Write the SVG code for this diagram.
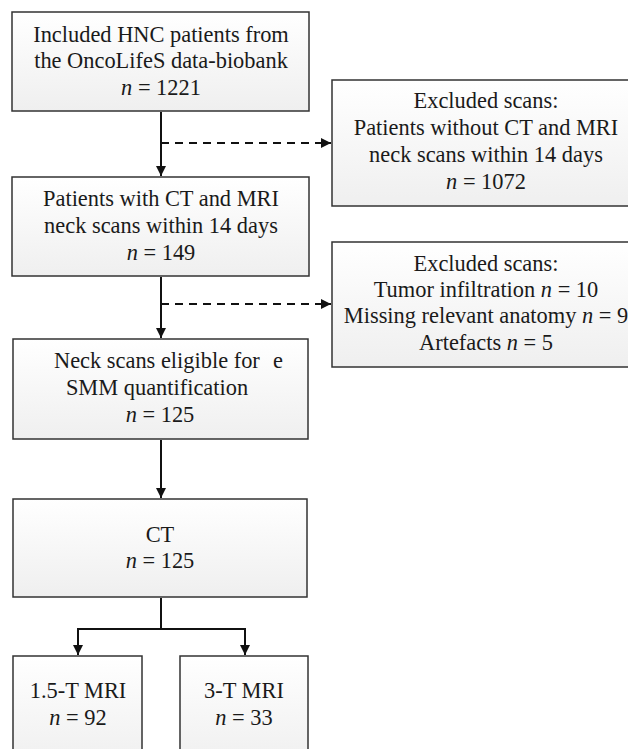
<svg xmlns="http://www.w3.org/2000/svg" width="628" height="749" viewBox="0 0 628 749">
<defs>
<linearGradient id="g" x1="0" y1="0" x2="0" y2="1">
<stop offset="0" stop-color="#ffffff"/>
<stop offset="1" stop-color="#efefef"/>
</linearGradient>
<marker id="ah" viewBox="0 0 10 10" refX="10" refY="5" markerWidth="10" markerHeight="10" markerUnits="userSpaceOnUse" orient="auto">
<path d="M0,0 L10,5 L0,10 z" fill="#111"/>
</marker>
</defs>
<style>
.box{fill:url(#g);stroke:#333;stroke-width:1.5}
text{font-family:"Liberation Serif","Times New Roman",serif;font-size:22.4px;fill:#1a1a1a;text-anchor:middle}
.i{font-style:italic}
.c{fill:none;stroke:#111;stroke-width:2}
.d{fill:none;stroke:#111;stroke-width:2;stroke-dasharray:8 6}
</style>
<g id="connectors">
<path class="c" d="M161,112 V176" marker-end="url(#ah)"/>
<path class="d" d="M161,143 H331" marker-end="url(#ah)"/>
<path class="c" d="M161,277 V338" marker-end="url(#ah)"/>
<path class="d" d="M161,304 H331" marker-end="url(#ah)"/>
<path class="c" d="M161,440 V498" marker-end="url(#ah)"/>
<path class="c" d="M161,598 V629 M78,629 H245"/>
<path class="c" d="M78,628 V655" marker-end="url(#ah)"/>
<path class="c" d="M245,628 V655" marker-end="url(#ah)"/>
</g>
<g id="n1">
<rect class="box" x="12" y="12" width="297" height="99"/>
<text x="161" y="42">Included HNC patients from</text>
<text x="161" y="68">the OncoLifeS data-biobank</text>
<text x="161" y="95"><tspan class="i">n</tspan> = 1221</text>
</g>
<g id="n2">
<rect class="box" x="332" y="80" width="310" height="126"/>
<text x="486" y="108">Excluded scans:</text>
<text x="486" y="135">Patients without CT and MRI</text>
<text x="486" y="162">neck scans within 14 days</text>
<text x="486" y="189"><tspan class="i">n</tspan> = 1072</text>
</g>
<g id="n3">
<rect class="box" x="12" y="177" width="297" height="99"/>
<text x="161" y="206">Patients with CT and MRI</text>
<text x="161" y="233">neck scans within 14 days</text>
<text x="161" y="260"><tspan class="i">n</tspan> = 149</text>
</g>
<g id="n4">
<rect class="box" x="332" y="242" width="310" height="125"/>
<text x="486" y="271">Excluded scans:</text>
<text x="486" y="297">Tumor infiltration <tspan class="i">n</tspan> = 10</text>
<text x="486" y="323">Missing relevant anatomy <tspan class="i">n</tspan> = 9</text>
<text x="486" y="350">Artefacts <tspan class="i">n</tspan> = 5</text>
</g>
<g id="n5">
<rect class="box" x="13" y="339" width="295" height="100"/>
<text x="54" y="368" style="text-anchor:start">Neck scans eligible for<tspan x="273">e</tspan></text>
<text x="157" y="395">SMM quantification</text>
<text x="160" y="422"><tspan class="i">n</tspan> = 125</text>
</g>
<g id="n6">
<rect class="box" x="13" y="499" width="294" height="98"/>
<text x="160" y="542">CT</text>
<text x="160" y="568"><tspan class="i">n</tspan> = 125</text>
</g>
<g id="n7">
<rect class="box" x="13" y="656" width="129" height="110"/>
<text x="78" y="698">1.5-T MRI</text>
<text x="78" y="725"><tspan class="i">n</tspan> = 92</text>
</g>
<g id="n8">
<rect class="box" x="180" y="656" width="128" height="110"/>
<text x="244" y="698">3-T MRI</text>
<text x="244" y="725"><tspan class="i">n</tspan> = 33</text>
</g>
</svg>
